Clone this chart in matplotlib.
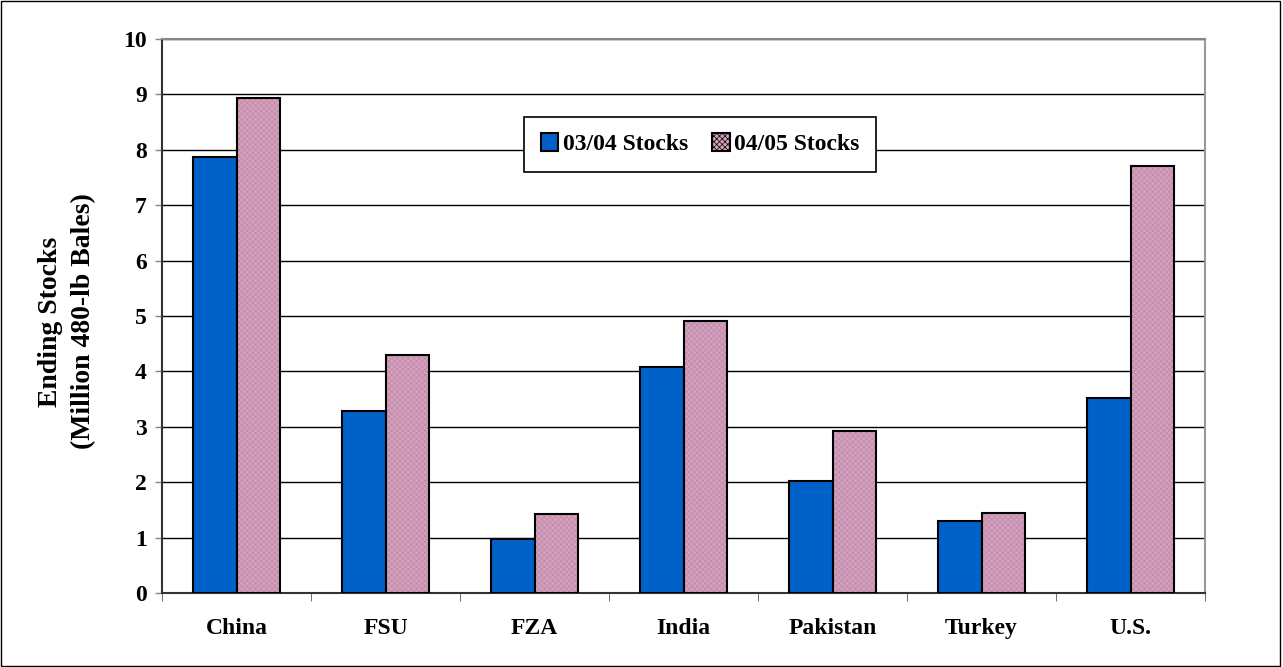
import matplotlib.pyplot as plt
import numpy as np
from matplotlib.patches import Rectangle

countries = ['China', 'FSU', 'FZA', 'India', 'Pakistan', 'Turkey', 'U.S.']
stocks_0304 = [7.87, 3.28, 0.97, 4.08, 2.02, 1.30, 3.52]
stocks_0405 = [8.93, 4.30, 1.42, 4.91, 2.93, 1.45, 7.70]

plt.rcParams['font.family'] = ['Liberation Serif', 'DejaVu Serif']
plt.rcParams['font.weight'] = 'bold'
plt.rcParams['hatch.linewidth'] = 0.5

fig = plt.figure(figsize=(12.83, 6.67), dpi=100)
ax = fig.add_axes([0.1263, 0.111, 0.813, 0.8306])

x = np.arange(len(countries))
w = 0.29
blue = '#0062c8'
pink = '#d3a0bd'

ax.bar(x - w/2, stocks_0304, w, color=blue, edgecolor='black', linewidth=1.5, zorder=3)
# hatched pink bars: fill + light hatch, then black outline
ax.bar(x + w/2, stocks_0405, w, color=pink, edgecolor='#c088a8', hatch='xxxxxx', linewidth=0, zorder=3)
ax.bar(x + w/2, stocks_0405, w, fill=False, edgecolor='black', linewidth=1.5, zorder=4)

ax.set_xlim(-0.5, len(countries) - 0.5)
ax.set_ylim(0, 10)
ax.set_yticks(range(0, 11))
ax.yaxis.grid(True, color='black', linewidth=1)
ax.set_axisbelow(True)

ax.set_xticks(x)
ax.set_xticklabels(countries, fontsize=17, fontweight='bold')
ax.tick_params(axis='x', length=0, pad=18)
ax.set_xticks(np.arange(-0.5, len(countries)), minor=True)
ax.tick_params(axis='x', which='minor', length=6, direction='out', color='#555555')
ax.tick_params(axis='y', labelsize=17, length=5, color='#888888', width=1, pad=6)
for lab in ax.get_yticklabels():
    lab.set_fontweight('bold')

ax.spines['top'].set_color('#888888')
ax.spines['top'].set_linewidth(1.5)
ax.spines['left'].set_linewidth(1.5)
ax.spines['left'].set_color('#333333')
ax.spines['bottom'].set_linewidth(1.5)
ax.spines['bottom'].set_color('#333333')
ax.spines['right'].set_color('#999999')
ax.spines['right'].set_linewidth(1.5)

ax.set_ylabel('Ending Stocks\n(Million 480-lb Bales)', fontsize=20, fontweight='bold',
              linespacing=1.45)
ax.yaxis.set_label_coords(-0.063, 0.49)

h1 = Rectangle((0, 0), 1, 1, facecolor=blue, edgecolor='black', linewidth=1.5)
h2 = Rectangle((0, 0), 1, 1, facecolor=pink, edgecolor='black', linewidth=1.5, hatch='xxxxxx')
leg = ax.legend([h1, h2], ['03/04 Stocks', '04/05 Stocks'], loc='center', bbox_to_anchor=(0.516, 0.81),
                ncol=2, fontsize=17, frameon=True, fancybox=False, framealpha=1,
                handlelength=0.75, handleheight=0.75, handletextpad=0.2, columnspacing=1.0,
                borderpad=0.7)
leg.get_frame().set_edgecolor('black')
leg.get_frame().set_linewidth(1.2)
leg.set_zorder(5)

fig.patches.append(Rectangle((0.001, 0.002), 0.997, 0.996, transform=fig.transFigure,
                             fill=False, edgecolor='black', linewidth=1))

fig.savefig('out.png', dpi=100)
